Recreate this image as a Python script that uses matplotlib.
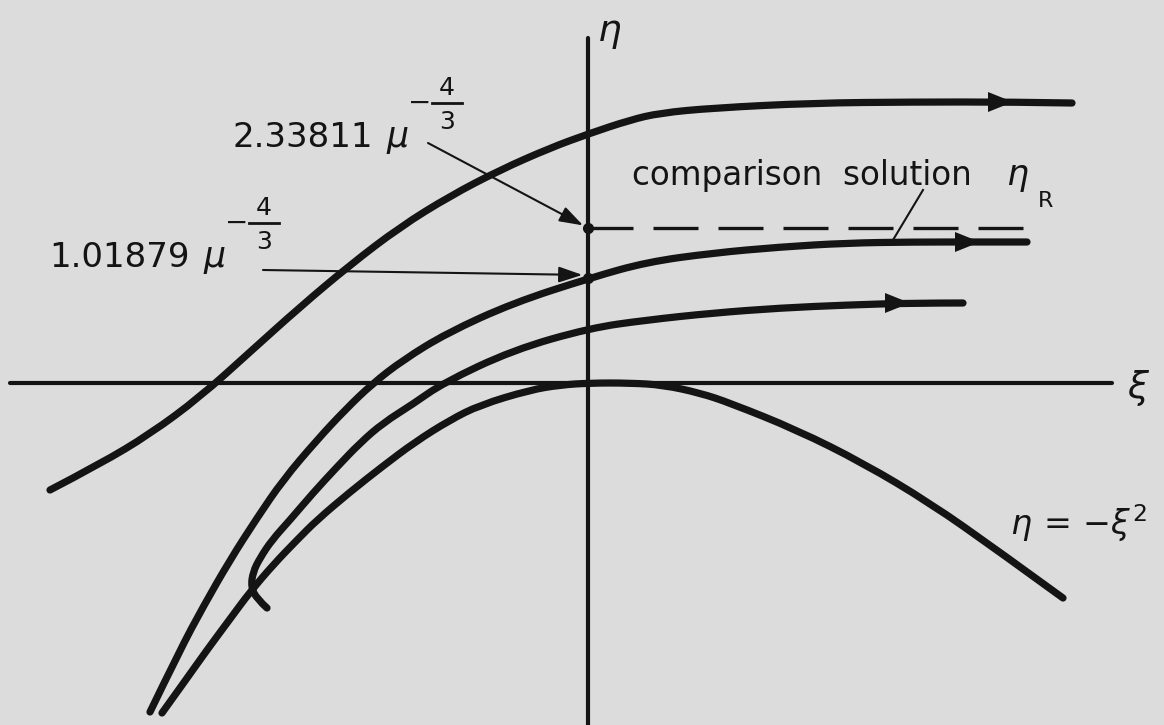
import numpy as np
import matplotlib.pyplot as plt
from matplotlib.path import Path
from matplotlib.patches import PathPatch

# solution curves in the (xi, eta) plane
upper_xi = [-5.38, -4.88, -4.38, -3.88, -3.38, -2.88, -2.38, -1.88, -1.38, -0.88,
            -0.38, 0.0, 0.42, 0.72, 1.25, 2.25, 3.25, 4.25, 4.84]
upper_eta = [-1.07, -0.81, -0.51, -0.14, 0.31, 0.76, 1.18, 1.56, 1.87, 2.13,
             2.35, 2.49, 2.63, 2.70, 2.75, 2.80, 2.81, 2.81, 2.80]

mid_xi = [-4.38, -4.08, -3.85, -3.58, -3.31, -3.05, -2.71, -2.43, -2.16, -1.85,
          -1.41, -0.75, 0.02, 0.59, 1.25, 1.92, 2.59, 3.25, 3.92, 4.39]
mid_eta = [-3.29, -2.67, -2.24, -1.77, -1.35, -0.97, -0.57, -0.27, -0.01, 0.23,
           0.50, 0.80, 1.05, 1.21, 1.30, 1.36, 1.40, 1.41, 1.41, 1.41]

hook_xi = [-3.21, -3.31, -3.37, -3.35, -3.28, -3.16, -2.98, -2.75, -2.51, -2.28,
           -2.05, -1.75, -1.45, -0.75, 0.02, 0.59, 1.25, 1.92, 2.59, 3.25, 3.75]
hook_eta = [-2.25, -2.16, -2.04, -1.89, -1.75, -1.57, -1.37, -1.10, -0.84, -0.60,
            -0.40, -0.21, 0.0, 0.33, 0.55, 0.63, 0.70, 0.75, 0.78, 0.80, 0.80]

low_xi = [-4.26, -4.03, -3.81, -3.58, -3.38, -3.15, -2.91, -2.71, -2.38, -2.05,
          -1.73, -1.38, -1.08, -0.58, -0.28, 0.02, 0.42, 0.75, 1.12, 1.42,
          2.09, 2.75, 3.42, 4.09, 4.75]
low_eta = [-3.30, -2.98, -2.67, -2.36, -2.09, -1.82, -1.57, -1.37, -1.09, -0.83,
           -0.59, -0.37, -0.22, -0.07, -0.02, 0.0, 0.0, -0.02, -0.10, -0.20,
           -0.47, -0.80, -1.20, -1.67, -2.15]

# arrow tips along the trajectories
tip_xi = [4.25, 3.92, 3.22]
tip_eta = [2.81, 1.41, 0.80]

# marked intercepts on the eta axis
eta_comp = 1.55
eta_start = 1.05
comp_end = 4.39

bg = '#dcdcdc'
ink = '#141414'


def smooth_path(xs, ys):
    # quadratic bezier pieces through the midpoints, points act as controls
    pts = np.column_stack([xs, ys])
    verts = [pts[0]]
    codes = [Path.MOVETO]
    for i in range(1, len(pts) - 1):
        verts += [pts[i], (pts[i] + pts[i + 1]) / 2]
        codes += [Path.CURVE3, Path.CURVE3]
    verts[-1] = pts[-1]
    return Path(verts, codes)


fig = plt.figure(figsize=(11.64, 7.25), dpi=100, facecolor=bg)
ax = fig.add_axes([0, 0, 1, 1])
ax.set_facecolor(bg)
ax.set_xlim(-5.88, 5.76)
ax.set_ylim(-3.42, 3.83)
ax.axis('off')

# coordinate axes
ax.plot([-5.78, 5.24], [0, 0], color=ink, lw=3, solid_capstyle='round')
ax.plot([0, 0], [-3.6, 3.45], color=ink, lw=3, solid_capstyle='round')
ax.text(0.09, 3.42, r'$\eta$', fontsize=27, color=ink, va='baseline')
ax.text(5.39, -0.05, r'$\xi$', fontsize=27, color=ink, va='center')

for xs, ys in [(upper_xi, upper_eta), (mid_xi, mid_eta),
               (hook_xi, hook_eta), (low_xi, low_eta)]:
    ax.add_patch(PathPatch(smooth_path(xs, ys), fill=False, edgecolor=ink,
                           lw=5.2, capstyle='round', joinstyle='round'))

for x, y in zip(tip_xi, tip_eta):
    ax.annotate('', xy=(x, y), xytext=(x - 0.4, y),
                arrowprops=dict(arrowstyle='-|>,head_length=0.9,head_width=0.36',
                                mutation_scale=20, color=ink, lw=0,
                                shrinkA=0, shrinkB=0))

# comparison solution
ax.plot([0, comp_end], [eta_comp, eta_comp], color=ink, lw=2.4,
        linestyle=(0, (13.5, 6)), dash_capstyle='butt')
ax.plot([0, 0], [eta_comp, eta_start], 'o', color=ink, ms=7)
ax.text(0.44, 1.98, 'comparison  solution', fontsize=23.5, color=ink,
        va='baseline')
ax.text(4.18, 1.98, r'$\eta$', fontsize=25, color=ink, va='baseline')
ax.text(4.50, 1.76, 'R', fontsize=16, color=ink, va='baseline')
ax.plot([3.35, 3.05], [1.93, 1.43], color=ink, lw=1.5)

# intercept labels
lead = dict(arrowstyle='-|>,head_length=0.72,head_width=0.24',
            mutation_scale=20, color=ink, lw=1.5, shrinkA=0, shrinkB=4)
ax.annotate('', xy=(0, eta_comp), xytext=(-1.60, 2.40), arrowprops=lead)
ax.annotate('', xy=(0, eta_start + 0.03), xytext=(-3.25, 1.13), arrowprops=lead)

for num, x0, y0 in [('2.33811', -2.15, 2.36), ('1.01879', -3.98, 1.16)]:
    ax.text(x0, y0, num, fontsize=24.5, color=ink, ha='right', va='baseline')
    ax.text(x0 + 0.13, y0, r'$\mu$', fontsize=25, color=ink, va='baseline')
    ex = x0 + 0.47
    ey = y0 + 0.44
    ax.text(ex, ey, '\u2212', fontsize=20, color=ink, ha='center', va='center')
    ax.plot([ex + 0.12, ex + 0.42], [ey, ey], color=ink, lw=2)
    ax.text(ex + 0.27, ey + 0.03, '4', fontsize=18, color=ink, ha='center',
            va='bottom')
    ax.text(ex + 0.27, ey - 0.07, '3', fontsize=18, color=ink, ha='center',
            va='top')

ax.text(4.22, -1.52, r'$\eta\,=\,{-}\xi^{2}$', fontsize=24, color=ink,
        va='baseline')

fig.savefig('out.png', dpi=100, facecolor=bg)
